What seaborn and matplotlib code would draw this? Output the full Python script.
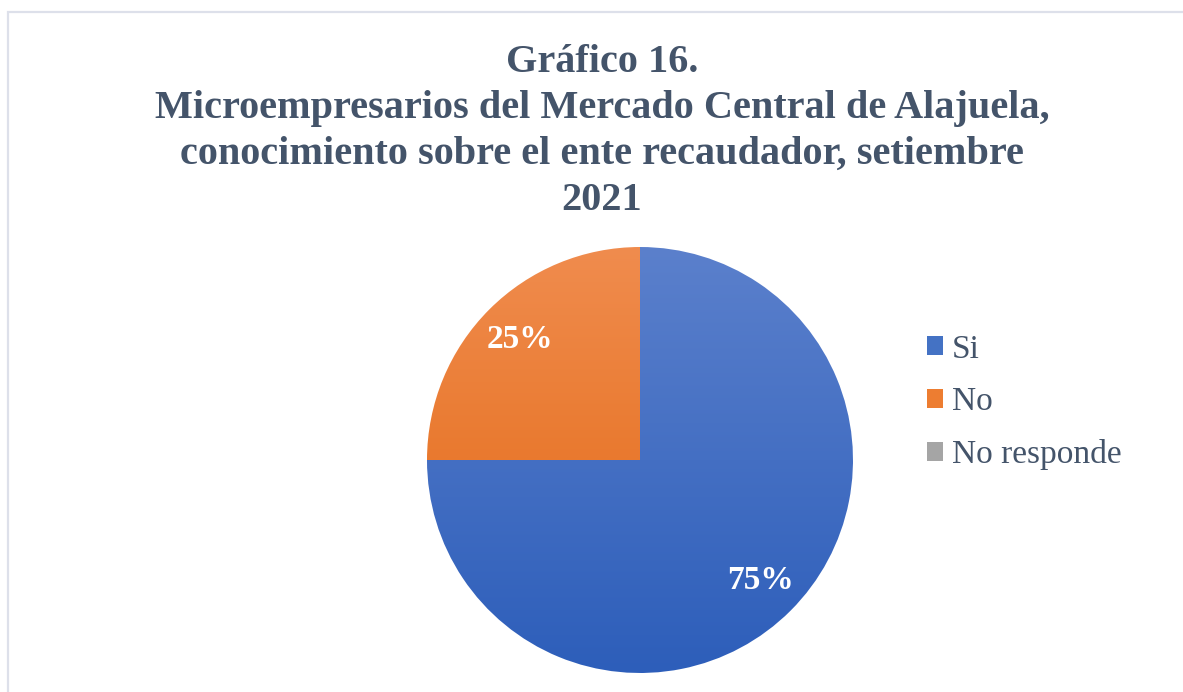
import matplotlib
matplotlib.use("Agg")
import matplotlib.pyplot as plt
import numpy as np
import seaborn as sns
from matplotlib.colors import LinearSegmentedColormap
from matplotlib.patches import Patch, Rectangle

# data
categories = ["Si", "No", "No responde"]
percentages = [75, 25, 0]
title_lines = [
    "Gráfico 16.",
    "Microempresarios del Mercado Central de Alajuela,",
    "conocimiento sobre el ente recaudador, setiembre",
    "2021",
]

# colours: (top of gradient, bottom of gradient, legend swatch)
top_colors = ["#5B80CC", "#F08C4E", "#B0B0B0"]
bottom_colors = ["#2D5EBA", "#E2660F", "#8C8C8C"]
swatch_colors = ["#4472C4", "#ED7D31", "#A5A5A5"]
text_color = "#44546A"

sns.set_theme(style="white")
plt.rcParams["font.family"] = ["Liberation Serif", "DejaVu Serif"]

fig = plt.figure(figsize=(11.83, 6.92), dpi=100)
W, H = 1183, 692

# chart border
fig.patches.append(Rectangle((8 / W, -0.1), 1.2, (H - 12) / H + 0.1,
                             transform=fig.transFigure, fill=False,
                             edgecolor="#DDE0EA", linewidth=1.6))

# title
for i, line in enumerate(title_lines):
    fig.text(602 / W, 1 - (72 + 46 * i) / H, line, ha="center", va="baseline",
             fontsize=29, fontweight="bold", color=text_color)

# pie
cx, cy, r = 640, 460, 213
ax = fig.add_axes([(cx - r) / W, (H - cy - r) / H, 2 * r / W, 2 * r / H])
wedges, _ = ax.pie(percentages, startangle=90, counterclock=False,
                   wedgeprops={"linewidth": 0})
ax.set_aspect("equal")
ax.axis("off")

grad = np.linspace(0, 1, 256).reshape(-1, 1)
for w, c0, c1, p in zip(wedges, top_colors, bottom_colors, percentages):
    w.set_facecolor("none")
    if p == 0:
        continue
    cmap = LinearSegmentedColormap.from_list("g", [c0, c1])
    im = ax.imshow(grad, cmap=cmap, extent=(-1, 1, -1, 1), aspect="auto",
                   origin="upper", zorder=1)
    im.set_clip_path(w)
    ang = np.deg2rad((w.theta1 + w.theta2) / 2)
    ax.text(0.8 * np.cos(ang), 0.8 * np.sin(ang), f"{p}%", ha="center",
            va="center", color="white", fontsize=24, fontweight="bold",
            zorder=3)
ax.set_xlim(-1, 1)
ax.set_ylim(-1, 1)

# legend
handles = [Patch(facecolor=c, edgecolor="none") for c in swatch_colors]
leg = fig.legend(handles, categories, loc="center left",
                 bbox_to_anchor=(910 / W, 1 - 402 / H), frameon=False,
                 fontsize=24, handlelength=0.5, handleheight=0.5,
                 handletextpad=0.25, labelspacing=0.66, borderpad=0)
for t in leg.get_texts():
    t.set_color(text_color)

fig.savefig("out.png", dpi=100)
plt.close(fig)
